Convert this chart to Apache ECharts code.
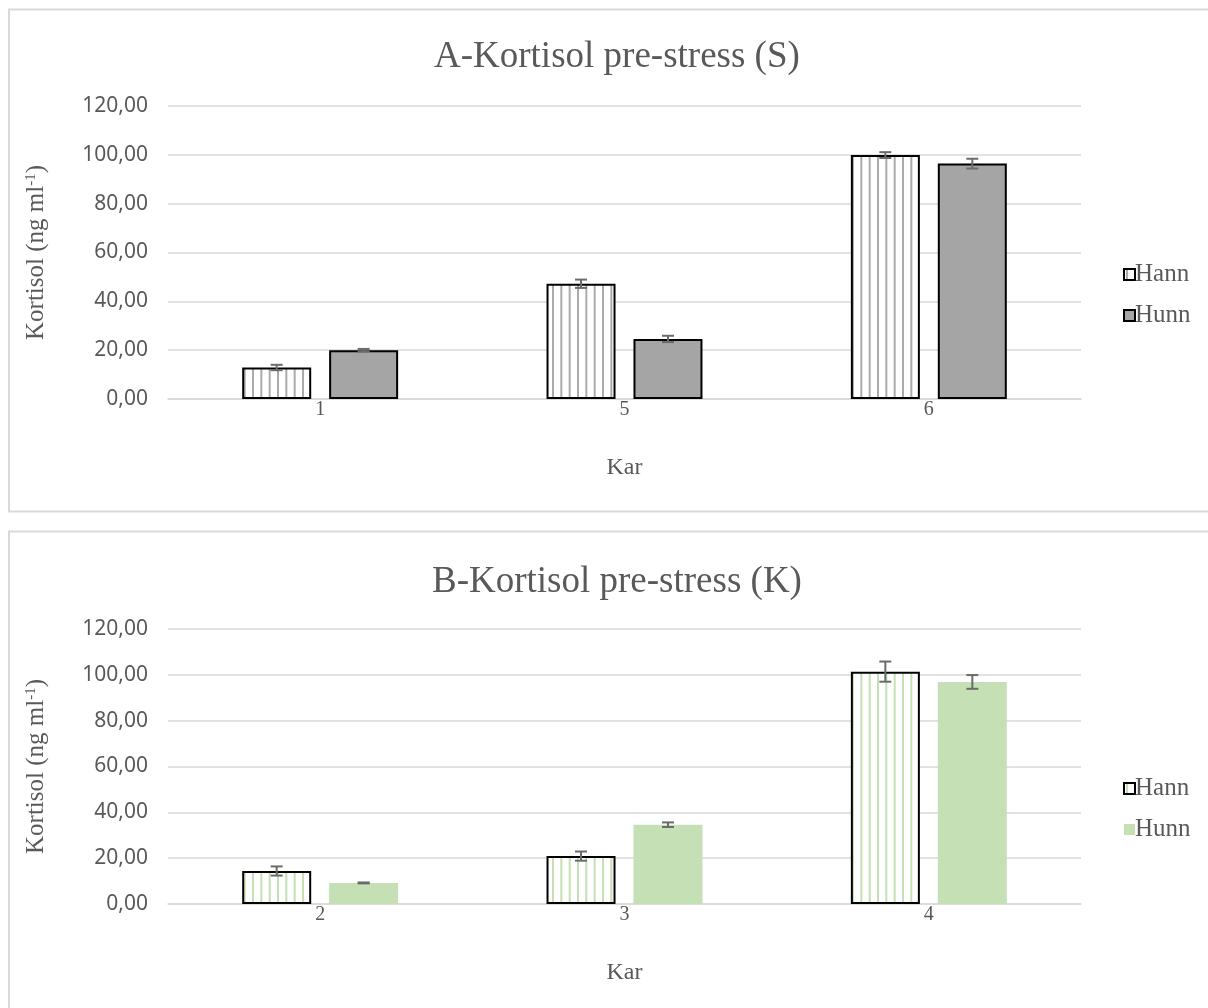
<!DOCTYPE html>
<html>
<head>
<meta charset="utf-8">
<script src="https://cdn.jsdelivr.net/npm/echarts@6/dist/echarts.min.js"></script>
<style>
  html, body { margin: 0; padding: 0; background: #fff; }
  #chartA { position: absolute; left: 0; top: 0; width: 1208px; height: 520px; }
  #chartB { position: absolute; left: 0; top: 520px; width: 1208px; height: 488px; }
</style>
</head>
<body>
<div id="chartA"></div>
<div id="chartB"></div>
<script>
// Cortisol before stress, by tank (Kar), males (Hann) and females (Hunn)
const titleA = 'A-Kortisol pre-stress (S)';
const karA = ['1', '5', '6'];
const hannA = [12.9, 47.2, 99.9];
const hannErrA = [1.1, 1.7, 1.2];
const hunnA = [20.0, 24.6, 96.4];
const hunnErrA = [0.5, 1.3, 2.0];

const titleB = 'B-Kortisol pre-stress (K)';
const karB = ['2', '3', '4'];
const hannB = [14.4, 20.9, 101.4];
const hannErrB = [2.0, 2.0, 4.4];
const hunnB = [9.2, 34.6, 96.9];
const hunnErrB = [0.2, 1.0, 3.0];

const yTicks = { min: 0, max: 120, interval: 20 };

const TXT = '#595959';
const GRID = '#d9d9d9';
const SERIF = '"Liberation Serif", "DejaVu Serif", serif';
const SANS = '"Noto Sans", "Open Sans", sans-serif';

// vertical-stripe fill for the Hann bars
function stripes(color) {
  const c = document.createElement('canvas');
  c.width = 25; c.height = 10;
  const ctx = c.getContext('2d');
  ctx.fillStyle = '#ffffff';
  ctx.fillRect(0, 0, 25, 10);
  ctx.fillStyle = color;
  [2, 10.33, 18.67].forEach(x => ctx.fillRect(x, 0, 2, 10));
  return { image: c, repeat: 'repeat' };
}

function errorSeries(values, errs, offset) {
  return {
    type: 'custom',
    silent: true,
    z: 10,
    data: values.map((v, i) => [i, v - errs[i], v + errs[i]]),
    encode: { x: 0, y: [1, 2] },
    renderItem: function (params, api) {
      const lo = api.coord([api.value(0), api.value(1)]);
      const hi = api.coord([api.value(0), api.value(2)]);
      const x = lo[0] + offset;
      const hw = 6;
      const style = { stroke: '#6b6b6b', lineWidth: 2, fill: null };
      return {
        type: 'group',
        children: [
          { type: 'line', shape: { x1: x, y1: lo[1], x2: x, y2: hi[1] }, style: style },
          { type: 'line', shape: { x1: x - hw, y1: lo[1], x2: x + hw, y2: lo[1] }, style: style },
          { type: 'line', shape: { x1: x - hw, y1: hi[1], x2: x + hw, y2: hi[1] }, style: style }
        ]
      };
    }
  };
}

function buildOption(cfg) {
  return {
    animation: false,
    graphic: [{
      type: 'rect',
      shape: { x: 9, y: cfg.panelTop, width: 1300, height: cfg.panelH },
      style: { fill: null, stroke: GRID, lineWidth: 2 },
      silent: true, z: -10
    }],
    title: {
      text: cfg.title,
      left: cfg.titleLeft,
      top: cfg.titleTop,
      textStyle: { fontFamily: SERIF, fontSize: 37, fontWeight: 'normal', color: TXT }
    },
    legend: {
      orient: 'vertical',
      left: 1118,
      top: cfg.legendTop,
      itemWidth: 11,
      itemHeight: 11,
      itemGap: 16,
      icon: 'rect',
      textStyle: { fontFamily: SERIF, fontSize: 25, color: TXT, padding: [0, 0, 0, -5] },
      data: ['Hann', 'Hunn']
    },
    grid: { left: 168, right: 127, top: cfg.gridTop, height: cfg.gridH },
    xAxis: {
      type: 'category',
      data: cfg.cats,
      axisTick: { show: false },
      axisLine: { lineStyle: { color: GRID, width: 1.5 } },
      axisLabel: { fontFamily: SERIF, fontSize: 20, color: TXT, margin: 1 },
      name: 'Kar',
      nameLocation: 'middle',
      nameGap: 57,
      nameTextStyle: { fontFamily: SERIF, fontSize: 24, color: TXT }
    },
    yAxis: {
      type: 'value',
      min: yTicks.min, max: yTicks.max, interval: yTicks.interval,
      axisLine: { show: false },
      axisTick: { show: false },
      splitLine: { lineStyle: { color: GRID, width: 1.5 } },
      axisLabel: {
        fontFamily: SANS, fontSize: 21, color: TXT, margin: 20,
        formatter: v => v.toFixed(2).replace('.', ',')
      },
      name: '{n|Kortisol (ng ml}{s|-1}{n|)}',
      nameLocation: 'middle',
      nameGap: 119,
      nameRotate: 90,
      nameTextStyle: {
        rich: {
          n: { fontFamily: SERIF, fontSize: 25, color: TXT },
          s: { fontFamily: SERIF, fontSize: 15, color: TXT, verticalAlign: 'top', padding: [0, 0, 10, 0] }
        }
      }
    },
    series: [
      {
        name: 'Hann',
        type: 'bar',
        data: cfg.hann,
        barWidth: 69,
        barGap: '26%',
        itemStyle: { color: stripes(cfg.stripe), borderColor: '#000', borderWidth: 2 }
      },
      {
        name: 'Hunn',
        type: 'bar',
        data: cfg.hunn,
        barWidth: 69,
        itemStyle: cfg.hunnStyle
      },
      errorSeries(cfg.hann, cfg.hannErr, -43.5),
      errorSeries(cfg.hunn, cfg.hunnErr, 43.5)
    ]
  };
}

echarts.init(document.getElementById('chartA')).setOption(buildOption({
  title: titleA, cats: karA, hann: hannA, hannErr: hannErrA, hunn: hunnA, hunnErr: hunnErrA,
  panelTop: 9.5, panelH: 502, titleLeft: 429, titleTop: 34, legendTop: 257, gridTop: 106, gridH: 293,
  stripe: '#ababab',
  hunnStyle: { color: '#a5a5a5', borderColor: '#000', borderWidth: 2 }
}));

echarts.init(document.getElementById('chartB')).setOption(buildOption({
  title: titleB, cats: karB, hann: hannB, hannErr: hannErrB, hunn: hunnB, hunnErr: hunnErrB,
  panelTop: 11.5, panelH: 600, titleLeft: 427, titleTop: 39, legendTop: 251, gridTop: 109, gridH: 275,
  stripe: '#c5e0b4',
  hunnStyle: { color: '#c5e0b4' }
}));
</script>
</body>
</html>
